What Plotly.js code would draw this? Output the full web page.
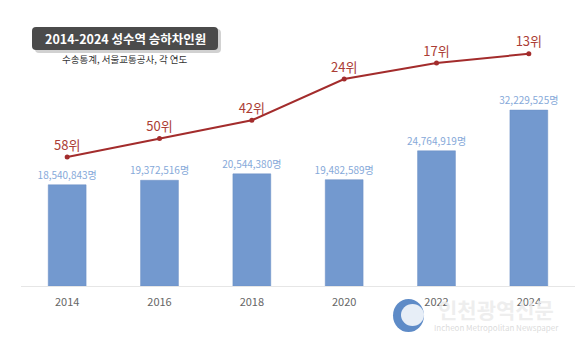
<!DOCTYPE html>
<html><head><meta charset="utf-8">
<script src="https://cdn.plot.ly/plotly-3.0.1.min.js"></script>
<style>html,body{margin:0;padding:0;background:#fff}</style>
</head><body><div id="chart" style="width:583px;height:351px"></div>
<script>
const years = ['2014','2016','2018','2020','2022','2024'];
const riders = [18540843, 19372516, 20544380, 19482589, 24764919, 32229525];
const ranks = [58, 50, 42, 24, 17, 13];
const riderLabels = riders.map(v => v.toLocaleString('en-US') + '명');
const rankLabels = ranks.map(v => v + '위');

const F = '"Noto Sans CJK KR", "Noto Sans", sans-serif';

const data = [
  {type:'bar', x:years, y:riders, marker:{color:'#7399cf', line:{color:'#6a8fc4', width:0.5}},
   text:riderLabels, textposition:'outside', cliponaxis:false, constraintext:'none',
   textfont:{family:F, size:10, color:'#86a9d9'}, hoverinfo:'skip'},
  {type:'scatter', mode:'lines+markers+text', x:years, y:ranks, yaxis:'y2',
   line:{color:'#a32c2c', width:2}, marker:{color:'#a32c2c', size:5},
   text:rankLabels, textposition:'top center', cliponaxis:false,
   textfont:{family:F, size:13, color:'#ab3d35'}, hoverinfo:'skip'}
];

const layout = {
  width:583, height:351,
  margin:{l:21, r:8, t:24, b:65},
  paper_bgcolor:'#ffffff', plot_bgcolor:'#ffffff',
  showlegend:false, bargap:0.59,
  font:{family:F},
  xaxis:{type:'category', showgrid:false, zeroline:false, showline:true, linecolor:'#e6e6e6', linewidth:1,
         ticks:'', tickfont:{family:F, size:11, color:'#666'}, ticklabelstandoff:6},
  yaxis:{range:[0, 48000000], visible:false, showgrid:false, zeroline:false},
  yaxis2:{range:[114.3, 0], overlaying:'y', side:'right', visible:false, showgrid:false, zeroline:false},
  shapes:[
    {type:'path', xref:'pixel', yref:'pixel', layer:'above',
     path:'M 39 29 L 217 29 Q 221 29 221 33 L 221 49 Q 221 53 217 53 L 39 53 Q 35 53 35 49 L 35 33 Q 35 29 39 29 Z',
     fillcolor:'rgba(0,0,0,0.18)', line:{width:0}},
    {type:'path', xref:'pixel', yref:'pixel', layer:'above',
     path:'M 36 27 L 214 27 Q 218 27 218 31 L 218 46 Q 218 50 214 50 L 36 50 Q 32 50 32 46 L 32 31 Q 32 27 36 27 Z',
     fillcolor:'#4b4b4b', line:{width:0}},
    {type:'circle', xref:'pixel', yref:'pixel', layer:'above', x0:393, x1:424, y0:299, y1:332,
     fillcolor:'rgba(40,100,180,0.75)', line:{width:0}},
    {type:'circle', xref:'pixel', yref:'pixel', layer:'above', x0:401, x1:424, y0:304, y1:326,
     fillcolor:'rgba(255,255,255,0.85)', line:{width:0}}
  ],
  annotations:[
    {xref:'pixel', yref:'pixel', x:125, y:38.5, xanchor:'center', yanchor:'middle', showarrow:false,
     text:'<b>2014-2024 성수역 승하차인원</b>', font:{family:F, size:12.5, color:'#ffffff'}},
    {xref:'pixel', yref:'pixel', x:125, y:59, xanchor:'center', yanchor:'middle', showarrow:false,
     text:'수송통계, 서울교통공사, 각 연도', font:{family:F, size:9.5, color:'#333333'}},
    {xref:'pixel', yref:'pixel', x:496, y:309, xanchor:'center', yanchor:'middle', showarrow:false,
     text:'<b>인천광역신문</b>', font:{family:F, size:21, color:'rgba(235,235,235,0.85)'}},
    {xref:'pixel', yref:'pixel', x:496, y:327, xanchor:'center', yanchor:'middle', showarrow:false,
     text:'Incheon Metropolitan Newspaper', font:{family:F, size:8, color:'rgba(215,215,215,0.9)'}}
  ]
};

function px(x){ return (x - layout.margin.l) / (583 - layout.margin.l - layout.margin.r); }
function py(y){ return 1 - (y - layout.margin.t) / (351 - layout.margin.t - layout.margin.b); }
layout.shapes = layout.shapes.map(s => {
  const o = Object.assign({}, s, {xref:'paper', yref:'paper'});
  if (s.path) {
    o.path = s.path.replace(/(-?\d+(?:\.\d+)?) (-?\d+(?:\.\d+)?)/g, (m, a, b) => px(+a).toFixed(5) + ' ' + py(+b).toFixed(5));
  } else {
    o.x0 = px(s.x0); o.x1 = px(s.x1); o.y0 = py(s.y0); o.y1 = py(s.y1);
  }
  return o;
});
layout.annotations = layout.annotations.map(a =>
  Object.assign({}, a, {xref:'paper', yref:'paper', x:px(a.x), y:py(a.y)}));

Plotly.newPlot('chart', data, layout, {displayModeBar:false, staticPlot:true});
</script></body></html>
